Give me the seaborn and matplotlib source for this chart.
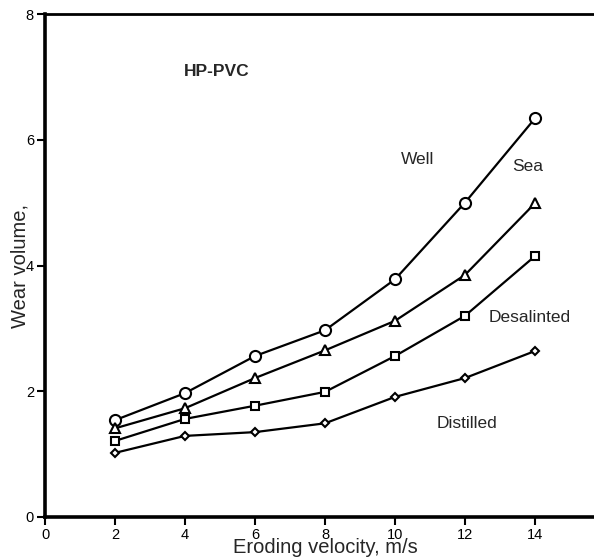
# wear volume vs eroding velocity, HP-PVC in four waters
import pandas as pd
import matplotlib
matplotlib.use("Agg")
import matplotlib.pyplot as plt
import seaborn as sns

# -------------------------
# data
# -------------------------
velocity = [2, 4, 6, 8, 10, 12, 14]
well = [1.54, 1.97, 2.56, 2.97, 3.78, 5.00, 6.34]
sea = [1.41, 1.73, 2.21, 2.65, 3.12, 3.85, 4.99]
desalinted = [1.21, 1.56, 1.77, 1.99, 2.56, 3.20, 4.15]
distilled = [1.02, 1.29, 1.35, 1.49, 1.91, 2.21, 2.64]

water_names = ["Well", "Sea", "Desalinted", "Distilled"]
x_ticks = [0, 2, 4, 6, 8, 10, 12, 14]
y_ticks = [0, 2, 4, 6, 8]

rows = []
for name, vals in zip(water_names, [well, sea, desalinted, distilled]):
    for v, w in zip(velocity, vals):
        rows.append({"velocity": v, "wear": w, "water": name})
df = pd.DataFrame(rows)

# -------------------------
# style
# -------------------------
sns.set_style("ticks")
plt.rcParams["font.family"] = ["Liberation Sans", "DejaVu Sans"]

fig = plt.figure(figsize=(5.94, 5.59), dpi=100)
ax = fig.add_axes([45 / 594, 42 / 559, 560 / 594, 503 / 559])

markers = {"Well": "o", "Sea": "^", "Desalinted": "s", "Distilled": "D"}
sizes = {"Well": 8, "Sea": 6.5, "Desalinted": 5.5, "Distilled": 4.5}

for name in water_names:
    sub = df[df["water"] == name]
    sns.lineplot(data=sub, x="velocity", y="wear", ax=ax, color="black",
                 linewidth=1.6, marker=markers[name], markersize=sizes[name],
                 markerfacecolor="white", markeredgecolor="black",
                 markeredgewidth=1.5, legend=False)

ax.set_xlim(0, 16)
ax.set_ylim(0, 8)
ax.set_xticks(x_ticks)
ax.set_yticks(y_ticks)
ax.tick_params(axis="both", direction="out", length=6, width=1.5,
               labelsize=10.5, pad=2, colors="black")

for side in ["left", "bottom"]:
    ax.spines[side].set_linewidth(2.6)
ax.spines["top"].set_linewidth(2.0)
ax.spines["right"].set_visible(False)
for s in ax.spines.values():
    s.set_color("black")

ax.set_xlabel("Eroding velocity, m/s", fontsize=14.5)
ax.set_ylabel("Wear volume,", fontsize=14.5)
ax.xaxis.set_label_coords(0.5, -0.06)
ax.xaxis.label.set_va("center")
ax.yaxis.set_label_coords(-0.045, 0.5)
ax.yaxis.label.set_va("center")

# curve labels
ax.text(10.66, 5.68, "Well", fontsize=12.5, ha="center", va="center")
ax.text(13.8, 5.58, "Sea", fontsize=12.5, ha="center", va="center")
ax.text(13.85, 3.18, "Desalinted", fontsize=12.5, ha="center", va="center")
ax.text(12.05, 1.48, "Distilled", fontsize=12.5, ha="center", va="center")
ax.text(4.9, 7.08, "HP-PVC", fontsize=12.5, fontweight="bold",
        ha="center", va="center")

fig.savefig("out.png", dpi=100)
